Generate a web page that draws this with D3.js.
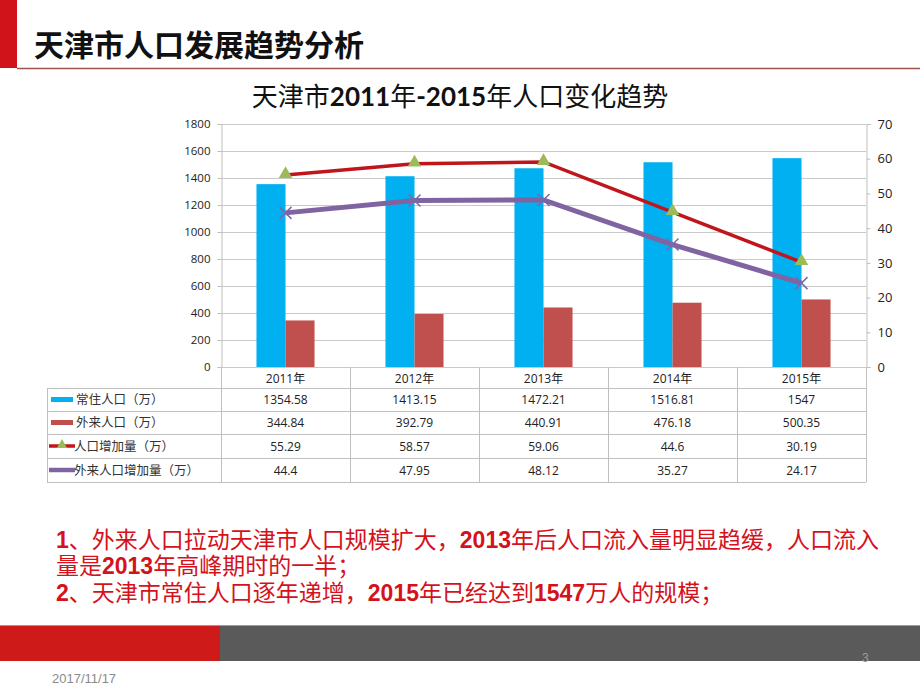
<!DOCTYPE html>
<html><head><meta charset="utf-8">
<script src="https://cdn.jsdelivr.net/npm/d3@7/dist/d3.min.js"></script>
<style>
html,body{margin:0;padding:0;background:#fff;}
svg{display:block;}
</style></head>
<body><svg id="c" width="920" height="690"></svg>
<script>
const categories = ["2011年","2012年","2013年","2014年","2015年"];
const residentPop = [1354.58,1413.15,1472.21,1516.81,1547];
const migrantPop = [344.84,392.79,440.91,476.18,500.35];
const popIncrease = [55.29,58.57,59.06,44.6,30.19];
const migrantIncrease = [44.4,47.95,48.12,35.27,24.17];
const leftTicks = [0,200,400,600,800,1000,1200,1400,1600,1800];
const rightTicks = [0,10,20,30,40,50,60,70];
const seriesNames = ["常住人口（万）","外来人口（万）","人口增加量（万）","外来人口增加量（万）"];
const rowLabels = [
  residentPop.map(String),
  migrantPop.map(String),
  popIncrease.map(String),
  migrantIncrease.map(String)
];

const CJK = "'Noto Sans CJK SC','Noto Sans',sans-serif";
const svg = d3.select("#c");

// slide header
svg.append("rect").attr("x",0).attr("y",0).attr("width",17).attr("height",68).attr("fill","#d0121b");
svg.append("line").attr("x1",17).attr("x2",920).attr("y1",68.5).attr("y2",68.5).attr("stroke","#a0524f").attr("stroke-width",1.5);
svg.append("text").attr("x",34).attr("y",56).attr("font-family",CJK).attr("font-weight",700)
  .attr("font-size",30).attr("fill","#111").text("天津市人口发展趋势分析");

// chart title
const t = svg.append("text").attr("x",460).attr("y",106).attr("text-anchor","middle")
  .attr("font-family",CJK).attr("font-size",26).attr("fill","#111");
[["天津市",400],["2011",700],["年",400],["-2015",700],["年人口变化趋势",400]].forEach(([s,w])=>{
  t.append("tspan").attr("font-weight",w).attr("font-family", w===700?"Lato,"+CJK:CJK).text(s);
});

// scales
const L = 221, R = 866, T = 124, B = 367;
const x = d3.scaleBand().domain(categories).range([L,R]).paddingInner(0).paddingOuter(0);
const yL = d3.scaleLinear().domain([0,1800]).range([B,T]);
const yR = d3.scaleLinear().domain([0,70]).range([B,T]);
const barW = x.bandwidth()*0.225;

// gridlines
svg.append("g").selectAll("line").data(leftTicks).join("line")
  .attr("x1",L).attr("x2",R).attr("y1",d=>Math.round(yL(d))+0.5).attr("y2",d=>Math.round(yL(d))+0.5)
  .attr("stroke","#c9c9c9").attr("stroke-width",1);

// axes
const axL = svg.append("g").attr("transform",`translate(${L+0.5},0)`)
  .call(d3.axisLeft(yL).tickValues(leftTicks).tickFormat(d3.format("d")).tickSize(4).tickPadding(7));
const axR = svg.append("g").attr("transform",`translate(${R+0.5},0)`)
  .call(d3.axisRight(yR).tickValues(rightTicks).tickFormat(d3.format("d")).tickSize(4).tickPadding(7));
[axL,axR].forEach(a=>{
  a.select(".domain").attr("stroke","#bfbfbf");
  a.selectAll(".tick line").attr("stroke","#bfbfbf");
  a.selectAll("text").attr("font-family","'Open Sans',"+CJK).attr("font-size",11.5).attr("fill","#222");
});
axR.selectAll("text").attr("font-size",13);

// bars
svg.append("g").selectAll("rect").data(categories).join("rect")
  .attr("x",(d)=>x(d)+x.bandwidth()/2-barW).attr("width",barW)
  .attr("y",(d,i)=>yL(residentPop[i])).attr("height",(d,i)=>B-yL(residentPop[i]))
  .attr("fill","#00b0f0");
svg.append("g").selectAll("rect").data(categories).join("rect")
  .attr("x",(d)=>x(d)+x.bandwidth()/2).attr("width",barW)
  .attr("y",(d,i)=>yL(migrantPop[i])).attr("height",(d,i)=>B-yL(migrantPop[i]))
  .attr("fill","#c0504d");

const cx = d=>x(d)+x.bandwidth()/2;
// lines
const lineR = d3.line().x((d,i)=>cx(categories[i])).y(d=>yR(d));
svg.append("path").datum(popIncrease).attr("d",lineR).attr("fill","none")
  .attr("stroke","#c0161b").attr("stroke-width",3.5);
svg.append("path").datum(migrantIncrease).attr("d",lineR).attr("fill","none")
  .attr("stroke","#8064a2").attr("stroke-width",5);

const tri = d3.symbol().type(d3.symbolTriangle).size(80);
svg.append("g").selectAll("path").data(popIncrease).join("path")
  .attr("transform",(d,i)=>`translate(${cx(categories[i])},${yR(d)-1})`).attr("d",tri)
  .attr("fill","#9bbb59");
const xs = 6;
svg.append("g").selectAll("path").data(migrantIncrease).join("path")
  .attr("transform",(d,i)=>`translate(${cx(categories[i])},${yR(d)})`)
  .attr("d",`M${-xs},${-xs}L${xs},${xs}M${-xs},${xs}L${xs},${-xs}`)
  .attr("stroke","#7d68a8").attr("stroke-width",1.5).attr("fill","none");

// data table
const TL = 47, rowH = [367,388,411,434,458,482];
const tg = svg.append("g").attr("stroke","#bfbfbf").attr("stroke-width",1);
rowH.slice(1).forEach(yv=>{
  tg.append("line").attr("x1",TL).attr("x2",R).attr("y1",yv+0.5).attr("y2",yv+0.5);
});
tg.append("line").attr("x1",TL+0.5).attr("x2",TL+0.5).attr("y1",rowH[1]).attr("y2",rowH[5]);
x.domain().concat([null]).forEach((c,i)=>{
  const xv = c===null ? R : x(c);
  tg.append("line").attr("x1",xv+0.5).attr("x2",xv+0.5).attr("y1",B).attr("y2",rowH[5]);
});
svg.append("g").selectAll("text").data(categories).join("text")
  .attr("x",d=>cx(d)).attr("y",(rowH[0]+rowH[1])/2+5).attr("text-anchor","middle")
  .attr("font-family","'Open Sans',"+CJK).attr("font-size",12).attr("fill","#222").text(d=>d);
rowLabels.forEach((vals,r)=>{
  const yc = (rowH[r+1]+rowH[r+2])/2;
  svg.append("g").selectAll("text").data(vals).join("text")
    .attr("x",(d,i)=>cx(categories[i])).attr("y",yc+4.5).attr("text-anchor","middle")
    .attr("font-family","'Open Sans',"+CJK).attr("font-size",12).attr("fill","#222").text(d=>d);
  svg.append("text").attr("x",r<2?76:74).attr("y",yc+4.5).attr("font-family",CJK).attr("font-size",12.5)
    .attr("fill","#333").text(seriesNames[r]);
});
const y0 = (rowH[1]+rowH[2])/2, y1 = (rowH[2]+rowH[3])/2, y2 = (rowH[3]+rowH[4])/2, y3 = (rowH[4]+rowH[5])/2;
svg.append("rect").attr("x",51).attr("y",y0-2.5).attr("width",22).attr("height",5).attr("fill","#00b0f0");
svg.append("rect").attr("x",51).attr("y",y1-2.5).attr("width",22).attr("height",5).attr("fill","#c0504d");
svg.append("line").attr("x1",49).attr("x2",75).attr("y1",y2).attr("y2",y2).attr("stroke","#c0161b").attr("stroke-width",3.5);
svg.append("path").attr("transform",`translate(62,${y2-1})`).attr("d",d3.symbol().type(d3.symbolTriangle).size(45)).attr("fill","#9bbb59");
svg.append("line").attr("x1",49).attr("x2",75).attr("y1",y3).attr("y2",y3).attr("stroke","#8064a2").attr("stroke-width",4.5);

// commentary text
const red = "#d5121b";
const lines = [
  [["1",1],["、外来人口拉动天津市人口规模扩大，",0],["2013",1],["年后人口流入量明显趋缓，人口流入",0]],
  [["量是",0],["2013",1],["年高峰期时的一半；",0]],
  [["2",1],["、天津市常住人口逐年递增，",0],["2015",1],["年已经达到",0],["1547",1],["万人的规模；",0]]
];
const lineY = [548,574,601];
lines.forEach((parts,i)=>{
  const tx = svg.append("text").attr("x",56).attr("y",lineY[i]).attr("font-size",23).attr("fill",red).attr("font-family",CJK);
  parts.forEach(([s,b])=>{
    tx.append("tspan").attr("font-weight",b?700:400)
      .attr("font-family", b ? "'Liberation Sans Narrow','Liberation Sans',Arial,sans-serif" : CJK)
      .text(s);
  });
});

// footer
svg.append("rect").attr("x",0).attr("y",625).attr("width",920).attr("height",36).attr("fill","#5a5a5a");
svg.append("rect").attr("x",0).attr("y",625).attr("width",220).attr("height",36).attr("fill","#cf1a1a");
svg.append("line").attr("x1",0).attr("x2",920).attr("y1",625.5).attr("y2",625.5).attr("stroke","#9a9a9a");
svg.append("text").attr("x",862).attr("y",662).attr("font-family","'Liberation Sans Narrow','Liberation Sans',sans-serif")
  .attr("font-size",12).attr("fill","#9a9a9a").text("3");
svg.append("text").attr("x",52).attr("y",683).attr("font-family","'Liberation Sans Narrow','Liberation Sans',sans-serif")
  .attr("font-size",13).attr("fill","#8a8a8a").text("2017/11/17");
</script></body></html>
